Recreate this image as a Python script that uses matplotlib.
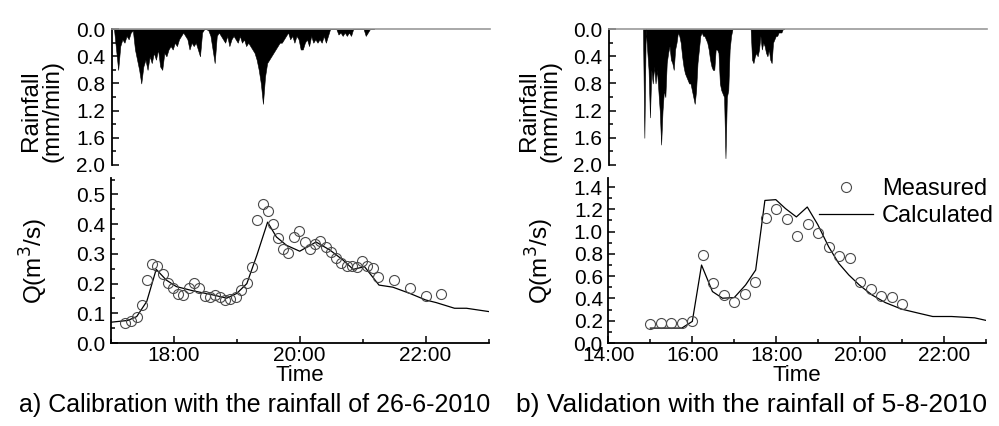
import numpy as np
import matplotlib
matplotlib.use("Agg")
import matplotlib.pyplot as plt
from matplotlib.ticker import MultipleLocator, FuncFormatter

plt.rcParams['font.family'] = ['Liberation Sans', 'DejaVu Sans']

# ---- a) calibration event 26-6-2010 (time in hours of day) ----
rain_a_min = np.arange(0, 252, 2)  # minutes after 17:00
rain_a = [0.0, 0.0, 0.3, 0.6, 0.25, 0.15, 0.2, 0.1, 0.15, 0.05,
          0.02, 0.3, 0.45, 0.6, 0.8, 0.55, 0.45, 0.6, 0.4, 0.5,
          0.35, 0.45, 0.3, 0.55, 0.6, 0.35, 0.4, 0.3, 0.25, 0.3,
          0.2, 0.25, 0.15, 0.1, 0.05, 0.1, 0.15, 0.3, 0.2, 0.25,
          0.2, 0.3, 0.4, 0.05, 0.0, 0.0, 0.02, 0.1, 0.3, 0.5,
          0.1, 0.05, 0.1, 0.15, 0.2, 0.1, 0.25, 0.15, 0.1, 0.15,
          0.2, 0.1, 0.2, 0.15, 0.25, 0.2, 0.25, 0.3, 0.35, 0.45,
          0.6, 0.8, 1.1, 0.7, 0.5, 0.45, 0.4, 0.35, 0.3, 0.25,
          0.2, 0.2, 0.15, 0.1, 0.05, 0.15, 0.1, 0.2, 0.1, 0.15,
          0.3, 0.3, 0.2, 0.15, 0.25, 0.1, 0.2, 0.15, 0.2, 0.15,
          0.2, 0.1, 0.2, 0.1, 0.0, 0.0, 0.0, 0.0, 0.08, 0.05,
          0.1, 0.05, 0.1, 0.05, 0.1, 0.0, 0.0, 0.0, 0.0, 0.0,
          0.0, 0.1, 0.05, 0.0, 0.0, 0.0]

calc_a_t = [17.0, 17.27, 17.41, 17.57, 17.72, 17.88, 18.04, 18.3, 18.62, 18.84,
            19.0, 19.16, 19.32, 19.49, 19.63, 19.79, 20.0, 20.26, 20.48, 20.69,
            20.85, 21.03, 21.26, 21.48, 21.75, 22.0, 22.17, 22.46, 22.65, 23.0]
calc_a_q = [0.07, 0.076, 0.089, 0.14, 0.248, 0.212, 0.19, 0.176, 0.162, 0.151,
            0.167, 0.2, 0.296, 0.407, 0.357, 0.329, 0.309, 0.34, 0.313, 0.279,
            0.248, 0.257, 0.195, 0.188, 0.167, 0.145, 0.136, 0.117, 0.117, 0.106]

meas_a_t = [17.22, 17.32, 17.41, 17.49, 17.57, 17.65, 17.74, 17.83, 17.91, 17.99,
            18.07, 18.15, 18.24, 18.32, 18.4, 18.49, 18.57, 18.65, 18.73, 18.82,
            18.9, 18.99, 19.07, 19.16, 19.24, 19.32, 19.41, 19.49, 19.57, 19.65,
            19.73, 19.82, 19.91, 19.99, 20.08, 20.16, 20.24, 20.32, 20.41, 20.5,
            20.58, 20.66, 20.75, 20.83, 20.91, 20.99, 21.07, 21.16, 21.24, 21.5,
            21.75, 22.0, 22.25]
meas_a_q = [0.069, 0.075, 0.089, 0.128, 0.212, 0.266, 0.259, 0.234, 0.203, 0.184,
            0.164, 0.162, 0.184, 0.201, 0.184, 0.158, 0.154, 0.161, 0.154, 0.145,
            0.147, 0.156, 0.179, 0.201, 0.257, 0.413, 0.469, 0.446, 0.402, 0.352,
            0.315, 0.304, 0.357, 0.376, 0.34, 0.316, 0.335, 0.344, 0.324, 0.307,
            0.285, 0.268, 0.26, 0.26, 0.257, 0.276, 0.26, 0.254, 0.221, 0.212,
            0.184, 0.158, 0.164]

# ---- b) validation event 5-8-2010 ----
rain_b_min = np.arange(48, 252, 2)  # minutes after 14:00
rain_b = [0.0, 1.6, 0.0, 0.3, 0.6, 1.3, 0.6, 0.8, 0.55, 0.8,
          0.6, 0.9, 1.2, 1.7, 1.2, 0.9, 1.0, 0.5, 0.35, 0.25,
          0.45, 0.5, 0.6, 0.3, 0.2, 0.05, 0.1, 0.2, 0.4, 0.55,
          0.65, 0.7, 0.75, 0.8, 0.8, 0.9, 1.0, 1.1, 0.9, 0.5,
          0.3, 0.1, 0.05, 0.1, 0.1, 0.15, 0.2, 0.3, 0.45, 0.55,
          0.6, 0.6, 0.3, 0.3, 0.35, 0.8, 0.9, 0.95, 1.0, 1.9,
          1.0, 0.9, 0.3, 0.1, 0.0, 0.0, 0.0, 0.0, 0.0, 0.0,
          0.0, 0.0, 0.0, 0.0, 0.0, 0.0, 0.0, 0.0, 0.45, 0.5,
          0.4, 0.35, 0.4, 0.3, 0.1, 0.3, 0.2, 0.25, 0.35, 0.4,
          0.3, 0.45, 0.5, 0.2, 0.15, 0.1, 0.1, 0.05, 0.05, 0.05,
          0.0, 0.0]

calc_b_t = [15.0, 15.75, 16.0, 16.22, 16.48, 16.72, 17.0, 17.27, 17.51, 17.73,
            17.99, 18.22, 18.48, 18.74, 18.99, 19.25, 19.49, 19.73, 19.98, 20.28,
            20.6, 20.99, 21.39, 21.73, 22.18, 22.73, 23.0]
calc_b_q = [0.134, 0.134, 0.194, 0.70, 0.462, 0.402, 0.408, 0.521, 0.655, 1.28,
            1.287, 1.207, 1.132, 1.221, 1.063, 0.864, 0.715, 0.611, 0.521, 0.432,
            0.363, 0.304, 0.268, 0.238, 0.238, 0.226, 0.203]

meas_b_t = [15.0, 15.25, 15.5, 15.75, 16.0, 16.25, 16.5, 16.75, 17.0, 17.25,
            17.5, 17.75, 18.0, 18.25, 18.5, 18.75, 19.0, 19.25, 19.5, 19.75,
            20.0, 20.25, 20.5, 20.75, 21.0]
meas_b_q = [0.173, 0.176, 0.176, 0.176, 0.194, 0.786, 0.536, 0.435, 0.366, 0.441,
            0.545, 1.123, 1.2, 1.111, 0.965, 1.066, 0.992, 0.864, 0.78, 0.763,
            0.545, 0.483, 0.423, 0.414, 0.349]

captions = ["a) Calibration with the rainfall of 26-6-2010",
            "b) Validation with the rainfall of 5-8-2010"]


def hhmm(x, pos):
    return "%02d:00" % int(round(x))


fig = plt.figure(figsize=(9.99, 4.26), dpi=100)

panels = [
    dict(left=0.112, start=17.0, xlim=(17, 23), rt=rain_a_min, rv=rain_a,
         ct=calc_a_t, cq=calc_a_q, mt=meas_a_t, mq=meas_a_q,
         qmax=0.555, qmaj=0.1, qmin=0.05, major=[18, 20, 22],
         minor=[17, 19, 21, 23], qlab_x=-0.162, cap_x=0.38, cap_fs=18),
    dict(left=0.610, start=14.0, xlim=(14, 23), rt=rain_b_min, rv=rain_b,
         ct=calc_b_t, cq=calc_b_q, mt=meas_b_t, mq=meas_b_q,
         qmax=1.48, qmaj=0.2, qmin=0.1, major=[14, 16, 18, 20, 22],
         minor=[15, 17, 19, 21, 23], qlab_x=-0.14, cap_x=0.38, cap_fs=19),
]

for i, p in enumerate(panels):
    # rainfall (inverted) on top
    ax_r = fig.add_axes([p['left'], 0.6127, 0.378, 0.319])
    t = p['start'] + np.asarray(p['rt']) / 60.0
    ax_r.fill_between(t, 0, p['rv'], color='black', lw=0.4, edgecolor='black')
    ax_r.set_xlim(p['xlim'])
    ax_r.set_ylim(2.0, 0.0)
    ax_r.yaxis.set_major_locator(MultipleLocator(0.4))
    ax_r.yaxis.set_minor_locator(MultipleLocator(0.2))
    ax_r.yaxis.set_major_formatter(FuncFormatter(lambda v, pos: "%.1f" % v))
    ax_r.set_xticks([])
    for s in ['right', 'bottom']:
        ax_r.spines[s].set_visible(False)
    ax_r.spines['top'].set_color('#9a9a9a')
    ax_r.spines['top'].set_linewidth(1.2)
    ax_r.spines['left'].set_linewidth(1.3)
    ax_r.tick_params(axis='y', which='major', direction='in', length=5, width=1.1,
                     labelsize=15, pad=5)
    ax_r.tick_params(axis='y', which='minor', direction='in', length=3, width=1.1)
    ax_r.set_ylabel("Rainfall\n(mm/min)", fontsize=17.5, linespacing=0.95)
    ax_r.yaxis.set_label_coords(-0.128, 0.40)

    # discharge below
    ax_q = fig.add_axes([p['left'] - 0.001, 0.1948, 0.378, 0.387])
    ax_q.plot(p['ct'], p['cq'], color='black', lw=0.9, label='Calculated')
    ax_q.plot(p['mt'], p['mq'], ls='none', marker='o', ms=7.2, mfc='none',
              mec='#4a4a4a', mew=0.8, label='Measured')
    ax_q.set_xlim(p['xlim'])
    ax_q.set_ylim(0, p['qmax'])
    ax_q.yaxis.set_major_locator(MultipleLocator(p['qmaj']))
    ax_q.yaxis.set_minor_locator(MultipleLocator(p['qmin']))
    ax_q.yaxis.set_major_formatter(FuncFormatter(lambda v, pos: "%.1f" % v))
    ax_q.set_xticks(p['major'])
    ax_q.set_xticks(p['minor'], minor=True)
    ax_q.xaxis.set_major_formatter(FuncFormatter(hhmm))
    for s in ['right', 'top']:
        ax_q.spines[s].set_visible(False)
    ax_q.spines['left'].set_linewidth(1.3)
    ax_q.spines['bottom'].set_linewidth(1.3)
    ax_q.tick_params(which='major', direction='in', length=5, width=1.1,
                     labelsize=15, pad=4)
    ax_q.tick_params(which='minor', direction='in', length=3, width=1.1)
    ax_q.tick_params(axis='x', which='major', pad=2.5)
    ax_q.set_ylabel("Q(m$^3$/s)", fontsize=17.5)
    ax_q.yaxis.set_label_coords(p['qlab_x'], 0.5)
    ax_q.set_xlabel("Time", fontsize=16, labelpad=0)
    ax_q.text(p['cap_x'], -0.376, captions[i], transform=ax_q.transAxes,
              ha='center', va='center', fontsize=p['cap_fs'])

    if i == 1:
        h, l = ax_q.get_legend_handles_labels()
        ax_q.legend(h[::-1], l[::-1], loc='upper left', bbox_to_anchor=(0.820, 0.582),
                    bbox_transform=fig.transFigure, frameon=False, fontsize=17,
                    handlelength=2.3, handletextpad=0.35, labelspacing=0.2,
                    borderpad=0, borderaxespad=0)

fig.savefig("out.png", dpi=100)
